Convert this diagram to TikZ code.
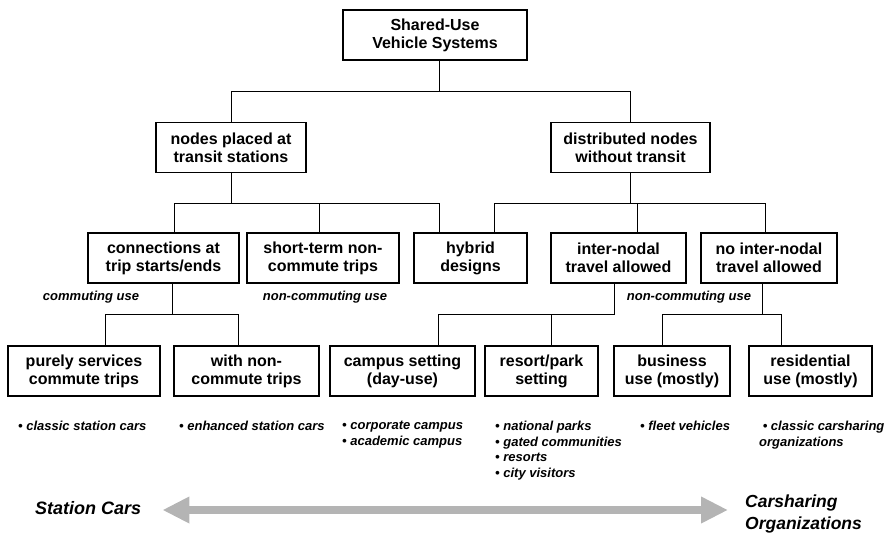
\documentclass[tikz,border=0pt]{standalone}
\usepackage{fontspec}
\setmainfont{Liberation Sans}
\usepackage{xcolor}
\usetikzlibrary{arrows.meta,calc}
\definecolor{arrowgray}{HTML}{B4B4B4}
\tikzset{
  tax box/.style={
    rectangle,
    draw=black,
    line width=1.7pt,
    minimum height=50pt,
    align=center,
    inner sep=2pt,
    font=\fontsize{16}{18}\selectfont\bfseries,
  },
  tax use/.style={
    inner sep=0pt,
    font=\fontsize{13}{15}\selectfont\bfseries\itshape,
  },
  tax note/.style={
    anchor=north west,
    align=left,
    inner sep=0pt,
    font=\fontsize{13}{15.5}\selectfont\bfseries\itshape,
  },
  tax end/.style={
    align=left,
    inner sep=0pt,
    font=\fontsize{17.5}{22}\selectfont\bfseries\itshape,
  },
  tax link/.style={line width=1pt},
  tax arrow/.style={
    {Triangle[length=27pt,width=25pt]}-{Triangle[length=27pt,width=25pt]},
    line width=8pt,
    draw=arrowgray,
  },
}

\begin{document}
\begin{tikzpicture}[x=1pt,y=-1pt]
  \useasboundingbox (0,0) rectangle (886,535);

  \node[tax box,minimum width=184pt] (root) at (435,35) {Shared-Use\\Vehicle Systems};

  \node[tax box,minimum width=150pt] (transit) at (231,147.5) {nodes placed at\\transit stations};
  \node[tax box,minimum width=159pt] (distrib) at (630.5,147.5) {distributed nodes\\without transit};

  \node[tax box,minimum width=151pt] (conn) at (163.5,258) {connections at\\trip starts/ends};
  \node[tax box,minimum width=152pt] (short) at (323,258) {short-term non-\\commute trips};
  \node[tax box,minimum width=113pt] (hybrid) at (470.5,258) {hybrid\\designs};
  \node[tax box,minimum width=135pt] (inter) at (618.5,258) {inter-nodal\\travel allowed};
  \node[tax box,minimum width=136pt] (nointer) at (769,258) {no inter-nodal\\travel allowed};

  \node[tax box,minimum width=152pt] (purely) at (84,371) {purely services\\commute trips};
  \node[tax box,minimum width=145pt] (withnon) at (246.5,371) {with non-\\commute trips};
  \node[tax box,minimum width=145pt] (campus) at (402.5,371) {campus setting\\(day-use)};
  \node[tax box,minimum width=113pt] (resort) at (541.5,371) {resort/park\\setting};
  \node[tax box,minimum width=116pt] (business) at (672,371) {business\\use (mostly)};
  \node[tax box,minimum width=123pt] (resid) at (810.5,371) {residential\\use (mostly)};

  % tree connectors
  \draw[tax link] ([xshift=4pt]root.south) -- ++(0,31) -| (transit.north);
  \draw[tax link] ([xshift=4pt]root.south) -- ++(0,31) -| (distrib.north);

  \draw[tax link] (transit.south) -- ++(0,30) -| ([xshift=10.5pt]conn.north);
  \draw[tax link] (transit.south) -- ++(0,30) -| ([xshift=-4pt]short.north);
  \draw[tax link] (transit.south) -- ++(0,30) -| ([xshift=-31.5pt]hybrid.north);

  \draw[tax link] (distrib.south) -- ++(0,30) -| ([xshift=23.5pt]hybrid.north);
  \draw[tax link] (distrib.south) -- ++(0,30) -| ([xshift=18.5pt]inter.north);
  \draw[tax link] (distrib.south) -- ++(0,30) -| ([xshift=-4pt]nointer.north);

  \draw[tax link] ([xshift=8.5pt]conn.south) -- ++(0,31) -| ([xshift=21pt]purely.north);
  \draw[tax link] ([xshift=8.5pt]conn.south) -- ++(0,31) -| ([xshift=-8.5pt]withnon.north);

  \draw[tax link] ([xshift=-4.5pt]inter.south) -- ++(0,31) -| ([xshift=35.5pt]campus.north);
  \draw[tax link] ([xshift=-4.5pt]inter.south) -- ++(0,31) -| ([xshift=9.5pt]resort.north);

  \draw[tax link] ([xshift=-7pt]nointer.south) -- ++(0,31) -| ([xshift=-10pt]business.north);
  \draw[tax link] ([xshift=-7pt]nointer.south) -- ++(0,31) -| ([xshift=-29.5pt]resid.north);

  % kinds of use
  \node[tax use] (commuse) at (91,297) {commuting use};
  \node[tax use] (noncomm1) at (325,297) {non-commuting use};
  \node[tax use] (noncomm2) at (689,297) {non-commuting use};

  % examples
  \node[tax note] (ex1) at (18,421) {• classic station cars};
  \node[tax note] (ex2) at (179,421) {• enhanced station cars};
  \node[tax note] (ex3) at (342,421) {• corporate campus\\• academic campus};
  \node[tax note] (ex4) at (495,421) {• national parks\\• gated communities\\• resorts\\• city visitors};
  \node[tax note] (ex5) at (640,421) {• fleet vehicles};
  \node[tax note] (ex6) at (759,421) {\ • classic carsharing\\organizations};

  % spectrum
  \node[tax end,anchor=west,font=\fontsize{18}{22}\selectfont\bfseries\itshape] (stcars) at (35,508) {Station Cars};
  \node[tax end,anchor=west] (csorgs) at (745,514) {Carsharing\\Organizations};
  \draw[tax arrow] ([xshift=21pt,yshift=-2pt]stcars.east) -- ([xshift=-17pt,yshift=-2pt]stcars.east -| csorgs.west);
\end{tikzpicture}
\end{document}
